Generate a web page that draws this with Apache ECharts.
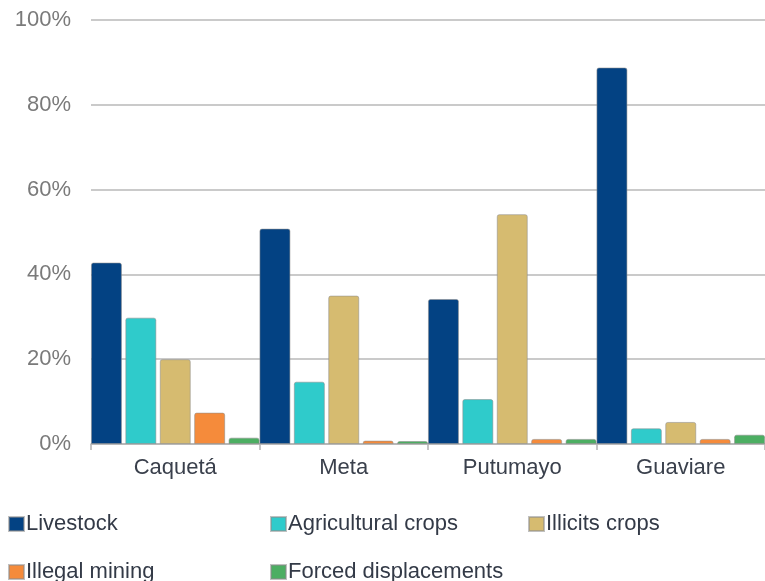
<!DOCTYPE html>
<html>
<head>
<meta charset="utf-8">
<script src="https://cdn.jsdelivr.net/npm/echarts@6/dist/echarts.min.js"></script>
<style>
  html, body { margin: 0; padding: 0; background: #fff; }
  #chart { width: 765px; height: 581px; }
</style>
</head>
<body>
<div id="chart"></div>
<script>
// Regions on the category axis
const regions = ['Caquetá', 'Meta', 'Putumayo', 'Guaviare'];

// Share of each driver per region (%)
const livestock = [42.8, 50.8, 34.2, 88.8];
const agriculturalCrops = [29.8, 14.7, 10.6, 3.7];
const illicitCrops = [20.0, 35.0, 54.2, 5.2];
const illegalMining = [7.4, 0.8, 1.2, 1.2];
const forcedDisplacements = [1.5, 0.7, 1.2, 2.2];

const yTicks = [0, 20, 40, 60, 80, 100];

const seriesDefs = [
  { name: 'Livestock', data: livestock, color: '#034283' },
  { name: 'Agricultural crops', data: agriculturalCrops, color: '#2fcbcb' },
  { name: 'Illicits crops', data: illicitCrops, color: '#d6bb70' },
  { name: 'Illegal mining', data: illegalMining, color: '#f58b3b' },
  { name: 'Forced displacements', data: forcedDisplacements, color: '#4cae62' }
];

// One legend block per entry so the entries sit on a fixed column grid
const legendSlots = [
  { left: 8, top: 513 },
  { left: 270, top: 513 },
  { left: 528, top: 513 },
  { left: 8, top: 561 },
  { left: 270, top: 561 }
];

const chart = echarts.init(document.getElementById('chart'), null, { renderer: 'canvas' });

chart.setOption({
  animation: false,
  backgroundColor: '#ffffff',
  textStyle: { fontFamily: 'Liberation Sans, Arial, sans-serif' },
  grid: { left: 91, right: 0, top: 20, bottom: 137, containLabel: false },
  legend: seriesDefs.map((s, i) => ({
    data: [s.name],
    left: legendSlots[i].left,
    top: legendSlots[i].top,
    padding: 0,
    icon: 'rect',
    itemWidth: 15,
    itemHeight: 14,
    selectedMode: false,
    textStyle: {
      fontSize: 22,
      color: '#333a47',
      fontFamily: 'Liberation Sans, Arial, sans-serif',
      padding: [0, 0, 0, -3]
    }
  })),
  xAxis: {
    type: 'category',
    data: regions,
    axisLine: { show: true, lineStyle: { color: '#b3b3b3', width: 1.5 } },
    axisTick: { show: true, length: 6, lineStyle: { color: '#b3b3b3', width: 1.5 } },
    axisLabel: { fontSize: 22, color: '#3a404c', margin: 13 },
    splitLine: { show: false }
  },
  yAxis: {
    type: 'value',
    min: yTicks[0],
    max: yTicks[yTicks.length - 1],
    interval: 20,
    axisLine: { show: false },
    axisTick: { show: false },
    axisLabel: {
      fontSize: 22,
      color: '#7a7a7a',
      margin: 20,
      formatter: v => v + '%'
    },
    splitLine: { show: true, lineStyle: { color: '#b9b9b9', width: 1.5 } }
  },
  series: seriesDefs.map(s => ({
    name: s.name,
    type: 'bar',
    data: s.data,
    barWidth: 31,
    barGap: '11%',
    itemStyle: {
      color: s.color,
      borderColor: 'rgba(140,140,140,0.55)',
      borderWidth: 1,
      borderRadius: [2, 2, 0, 0]
    },
    emphasis: { disabled: true }
  }))
});
</script>
</body>
</html>
